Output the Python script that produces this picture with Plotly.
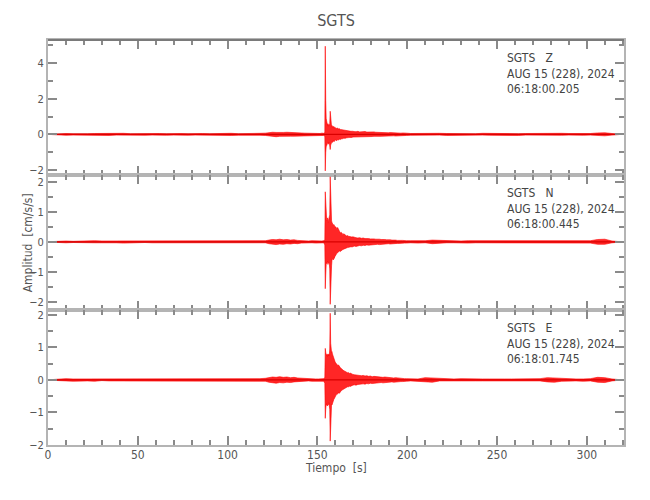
import numpy as np
import plotly.graph_objects as go
from plotly.subplots import make_subplots

# ---- time grid: segments (start, stop, step) in seconds ----
segments = [(0, 120, 4), (120, 150, 2), (150, 154, 1), (154, 160, 0.25),
            (160, 170, 0.5), (170, 200, 1), (200, 320, 4)]

# ---- per-bin maximum / minimum amplitude [cm/s/s] ----
z_hi = ([0.01,0.04,0.05,0.04,0.06,0.04,0.05,0.06,0.04,0.05,0.06,0.04,0.05,0.04,0.06,0.05,0.04,0.06,0.05,0.04,0.06,0.05,0.04,0.06,0.05,0.06,0.04,0.06,0.05,0.06]
        + [0.07,0.10,0.12,0.11,0.13,0.11,0.12,0.10,0.09,0.10,0.08,0.07,0.06,0.06,0.07]
        + [0.06,0.05,0.07,0.06]
        + [0.10,4.95,1.90,0.90,0.60,0.55,0.50,0.60,0.45,0.55,0.50,0.60,1.30,0.70,0.50,0.45,0.50,0.40,0.45,0.40,0.45,0.35,0.40,0.35]
        + [0.38,0.33,0.36,0.30,0.32,0.28,0.27,0.25,0.24,0.22,0.23,0.20,0.21,0.19,0.20,0.18,0.19,0.17,0.18,0.16]
        + [0.16,0.15,0.17,0.14,0.15,0.14,0.16,0.13,0.14,0.13,0.12,0.14,0.12,0.11,0.12,0.11,0.10,0.11,0.10,0.09,0.10,0.09,0.10,0.08,0.09,0.08,0.07,0.08,0.06,0.07]
        + [0.05,0.06,0.05,0.05,0.06,0.05,0.04,0.06,0.05,0.04,0.06,0.05,0.04,0.05,0.06,0.04,0.05,0.06,0.05,0.08,0.09,0.06,0.05,0.04,0.06,0.05,0.08,0.09,0.05,0.01])
z_lo = ([-0.01,-0.04,-0.05,-0.04,-0.05,-0.06,-0.04,-0.05,-0.06,-0.04,-0.05,-0.06,-0.04,-0.05,-0.04,-0.06,-0.05,-0.04,-0.06,-0.05,-0.04,-0.05,-0.06,-0.04,-0.05,-0.06,-0.05,-0.04,-0.06,-0.05]
        + [-0.06,-0.09,-0.11,-0.13,-0.11,-0.12,-0.11,-0.10,-0.10,-0.09,-0.08,-0.07,-0.06,-0.07,-0.06]
        + [-0.05,-0.06,-0.05,-0.06]
        + [-0.10,-2.05,-1.00,-0.70,-0.55,-0.60,-0.50,-0.45,-0.55,-0.50,-0.45,-0.60,-0.85,-0.60,-0.45,-0.50,-0.40,-0.45,-0.40,-0.35,-0.40,-0.40,-0.35,-0.30]
        + [-0.33,-0.35,-0.30,-0.31,-0.27,-0.29,-0.25,-0.26,-0.22,-0.23,-0.20,-0.21,-0.19,-0.20,-0.18,-0.17,-0.18,-0.16,-0.17,-0.15]
        + [-0.15,-0.16,-0.14,-0.15,-0.14,-0.15,-0.13,-0.14,-0.12,-0.13,-0.12,-0.11,-0.12,-0.11,-0.10,-0.11,-0.10,-0.09,-0.10,-0.09,-0.08,-0.09,-0.08,-0.09,-0.08,-0.07,-0.08,-0.07,-0.06,-0.06]
        + [-0.05,-0.04,-0.06,-0.05,-0.04,-0.06,-0.05,-0.04,-0.06,-0.05,-0.04,-0.05,-0.06,-0.04,-0.05,-0.06,-0.04,-0.05,-0.06,-0.07,-0.08,-0.05,-0.04,-0.06,-0.05,-0.04,-0.08,-0.08,-0.04,-0.01])

n_hi = ([0.01,0.03,0.03,0.02,0.03,0.03,0.04,0.03,0.03,0.02,0.03,0.04,0.03,0.03,0.02,0.03,0.03,0.04,0.03,0.02,0.03,0.03,0.03,0.04,0.02,0.03,0.03,0.03,0.04,0.03]
        + [0.04,0.06,0.08,0.07,0.09,0.07,0.08,0.06,0.07,0.05,0.04,0.04,0.03,0.04,0.03]
        + [0.03,0.04,0.03,0.04]
        + [0.08,1.67,1.20,0.83,0.75,0.70,0.80,0.65,0.72,0.70,0.75,0.90,2.17,1.17,0.85,0.70,0.65,0.60,0.62,0.55,0.58,0.52,0.55,0.50]
        + [0.50,0.45,0.48,0.40,0.35,0.30,0.32,0.28,0.25,0.27,0.23,0.22,0.20,0.21,0.19,0.18,0.17,0.18,0.16,0.17]
        + [0.15,0.14,0.13,0.14,0.12,0.13,0.11,0.12,0.11,0.10,0.11,0.10,0.09,0.10,0.09,0.08,0.09,0.08,0.07,0.08,0.07,0.06,0.07,0.06,0.05,0.06,0.05,0.05,0.04,0.04]
        + [0.04,0.03,0.04,0.06,0.05,0.03,0.03,0.03,0.04,0.04,0.03,0.03,0.03,0.04,0.03,0.04,0.03,0.03,0.03,0.04,0.03,0.03,0.04,0.03,0.03,0.04,0.08,0.09,0.03,0.01])
n_lo = ([-0.01,-0.03,-0.03,-0.02,-0.03,-0.04,-0.03,-0.03,-0.02,-0.03,-0.04,-0.03,-0.03,-0.02,-0.03,-0.03,-0.04,-0.03,-0.02,-0.03,-0.03,-0.04,-0.03,-0.02,-0.03,-0.03,-0.03,-0.04,-0.03,-0.04]
        + [-0.03,-0.06,-0.07,-0.09,-0.07,-0.08,-0.06,-0.07,-0.05,-0.06,-0.04,-0.03,-0.04,-0.03,-0.04]
        + [-0.04,-0.03,-0.04,-0.03]
        + [-0.10,-1.56,-1.10,-0.75,-0.70,-0.72,-0.65,-0.75,-0.68,-0.70,-0.72,-0.90,-2.08,-1.33,-0.95,-0.80,-0.60,-0.58,-0.55,-0.60,-0.52,-0.55,-0.50,-0.47]
        + [-0.42,-0.39,-0.36,-0.34,-0.30,-0.32,-0.28,-0.27,-0.25,-0.23,-0.22,-0.21,-0.20,-0.19,-0.18,-0.17,-0.18,-0.16,-0.17,-0.15]
        + [-0.14,-0.15,-0.13,-0.12,-0.13,-0.11,-0.12,-0.10,-0.11,-0.10,-0.09,-0.10,-0.09,-0.08,-0.09,-0.08,-0.07,-0.08,-0.07,-0.06,-0.07,-0.06,-0.05,-0.06,-0.05,-0.05,-0.04,-0.05,-0.04,-0.04]
        + [-0.03,-0.04,-0.03,-0.06,-0.04,-0.03,-0.03,-0.04,-0.04,-0.03,-0.03,-0.03,-0.04,-0.03,-0.04,-0.03,-0.03,-0.04,-0.03,-0.03,-0.03,-0.04,-0.04,-0.03,-0.03,-0.04,-0.08,-0.08,-0.03,-0.01])

e_hi = ([0.01,0.03,0.04,0.03,0.03,0.02,0.03,0.04,0.03,0.03,0.02,0.03,0.03,0.04,0.03,0.02,0.03,0.03,0.04,0.03,0.04,0.03,0.02,0.03,0.03,0.03,0.04,0.03,0.03,0.04]
        + [0.05,0.07,0.09,0.08,0.10,0.08,0.09,0.07,0.08,0.06,0.05,0.04,0.03,0.04,0.03]
        + [0.03,0.04,0.03,0.04]
        + [0.08,0.97,0.85,0.78,0.75,0.80,0.72,0.78,0.74,0.80,0.75,0.95,2.05,1.13,0.95,0.85,0.87,0.80,0.75,0.70,0.65,0.60,0.62,0.55]
        + [0.52,0.48,0.45,0.46,0.40,0.38,0.35,0.32,0.30,0.28,0.27,0.25,0.24,0.22,0.23,0.20,0.21,0.19,0.18,0.17]
        + [0.16,0.15,0.14,0.15,0.13,0.14,0.12,0.13,0.11,0.12,0.10,0.11,0.10,0.09,0.10,0.09,0.08,0.09,0.08,0.07,0.08,0.07,0.06,0.07,0.06,0.05,0.06,0.05,0.04,0.04]
        + [0.04,0.03,0.07,0.06,0.04,0.03,0.03,0.04,0.03,0.03,0.03,0.03,0.04,0.03,0.03,0.03,0.03,0.04,0.04,0.07,0.06,0.03,0.03,0.03,0.03,0.04,0.08,0.07,0.03,0.01])
e_lo = ([-0.01,-0.03,-0.03,-0.04,-0.03,-0.03,-0.04,-0.02,-0.03,-0.03,-0.03,-0.04,-0.03,-0.02,-0.03,-0.04,-0.03,-0.03,-0.02,-0.03,-0.03,-0.04,-0.03,-0.03,-0.03,-0.04,-0.02,-0.03,-0.03,-0.03]
        + [-0.04,-0.07,-0.08,-0.10,-0.08,-0.09,-0.07,-0.08,-0.06,-0.05,-0.05,-0.04,-0.03,-0.04,-0.04]
        + [-0.03,-0.04,-0.03,-0.04]
        + [-0.10,-1.18,-0.90,-0.75,-0.78,-0.72,-0.80,-0.74,-0.76,-0.70,-0.78,-0.90,-1.88,-1.08,-0.85,-0.75,-0.77,-0.70,-0.72,-0.65,-0.60,-0.58,-0.55,-0.50]
        + [-0.48,-0.45,-0.43,-0.40,-0.41,-0.36,-0.33,-0.31,-0.29,-0.27,-0.26,-0.24,-0.23,-0.21,-0.22,-0.19,-0.20,-0.18,-0.17,-0.16]
        + [-0.15,-0.16,-0.14,-0.13,-0.14,-0.12,-0.13,-0.11,-0.12,-0.10,-0.11,-0.10,-0.09,-0.10,-0.09,-0.08,-0.09,-0.08,-0.07,-0.08,-0.07,-0.06,-0.07,-0.06,-0.05,-0.06,-0.05,-0.05,-0.04,-0.04]
        + [-0.03,-0.04,-0.06,-0.07,-0.03,-0.04,-0.03,-0.03,-0.04,-0.03,-0.03,-0.03,-0.03,-0.04,-0.03,-0.03,-0.04,-0.03,-0.03,-0.06,-0.07,-0.04,-0.03,-0.03,-0.04,-0.03,-0.07,-0.08,-0.03,-0.01])

station = "SGTS"
components = ["Z", "N", "E"]
start_times = ["06:18:00.205", "06:18:00.445", "06:18:01.745"]
date_label = "AUG 15 (228), 2024"
x_range = [0, 320.7]
y_ranges = [[-2.28, 5.3], [-2.27, 2.23], [-2.0, 2.15]]
y_dticks = [2, 1, 1]

# ---- bin centres of the time grid ----
centres = []
for a, b, s in segments:
    for t in np.arange(a, b, s):
        centres.append(t + s / 2)
centres = np.array(centres)

FONT = "DejaVu Sans Condensed, Liberation Sans Narrow, DejaVu Sans, sans-serif"
TXT = "#555555"
AXC = "#b4b4b4"
TKC = "#8a8a8a"
RED = "#ff0000"

fig = make_subplots(rows=3, cols=1, shared_xaxes=True, vertical_spacing=0)

for i, (hi, lo) in enumerate([(z_hi, z_lo), (n_hi, n_lo), (e_hi, e_lo)]):
    r = i + 1
    fig.add_trace(go.Scatter(x=x_range, y=[0, 0], mode="lines",
                             line=dict(color="black", width=1.2),
                             hoverinfo="skip", showlegend=False), row=r, col=1)
    # min / max envelope of the trace, filled between
    fig.add_trace(go.Scatter(x=centres, y=lo, mode="lines",
                             line=dict(color=RED, width=0.6),
                             showlegend=False), row=r, col=1)
    fig.add_trace(go.Scatter(x=centres, y=hi, mode="lines", fill="tonexty",
                             fillcolor="rgba(255,0,0,0.85)",
                             line=dict(color=RED, width=0.6),
                             showlegend=False), row=r, col=1)
    fig.update_yaxes(range=y_ranges[i], dtick=y_dticks[i], tick0=0,
                     ticks="inside", ticklen=9, tickwidth=1.5, tickcolor=TKC,
                     minor=dict(dtick=y_dticks[i] / 2, ticks="inside", ticklen=5,
                                tickwidth=1.5, tickcolor=TKC),
                     showline=True, linecolor=AXC, linewidth=2, mirror="ticks",
                     showgrid=False, zeroline=False, automargin=False,
                     tickfont=dict(family=FONT, size=11, color=TXT),
                     row=r, col=1)
    fig.update_xaxes(range=x_range, dtick=50, tick0=0,
                     ticks="inside", ticklen=9, tickwidth=1.5, tickcolor=TKC,
                     minor=dict(dtick=10, ticks="inside", ticklen=5,
                                tickwidth=1.5, tickcolor=TKC),
                     showline=True, linecolor=AXC, linewidth=2, mirror="ticks",
                     showgrid=False, zeroline=False, automargin=False,
                     showticklabels=(r == 3), ticklabelstandoff=-2,
                     tickfont=dict(family=FONT, size=12, color=TXT),
                     row=r, col=1)
    yref = "y domain" if r == 1 else f"y{r} domain"
    fig.add_annotation(xref="paper", yref=yref, x=0.793, y=0.93,
                       xanchor="left", yanchor="top", align="left",
                       showarrow=False,
                       text=f"{station}   {components[i]}<br>{date_label}<br>{start_times[i]}",
                       font=dict(family=FONT, size=12, color="#444444"))

fig.add_annotation(xref="paper", yref="paper", x=-0.035, y=0.5,
                   xanchor="center", yanchor="middle", textangle=-90,
                   showarrow=False, text="Amplitud  [cm/s/s]",
                   font=dict(family=FONT, size=12, color=TXT))
fig.add_annotation(xref="paper", yref="paper", x=0.5, y=-0.058,
                   xanchor="center", yanchor="middle",
                   showarrow=False, text="Tiempo  [s]",
                   font=dict(family=FONT, size=12, color=TXT))
# darker top frame edge
fig.add_shape(type="line", xref="paper", yref="paper", x0=0, x1=1, y0=1, y1=1,
              line=dict(color="#7a7a7a", width=2))

fig.update_layout(
    width=650, height=500,
    margin=dict(l=40, r=34, t=32, b=63),
    paper_bgcolor="white", plot_bgcolor="white",
    title=dict(text=station, x=0.5, xref="paper", y=0.976, yref="container",
               yanchor="middle",
               font=dict(family=FONT, size=16, color=TXT)),
)

fig.write_html("out.html")
